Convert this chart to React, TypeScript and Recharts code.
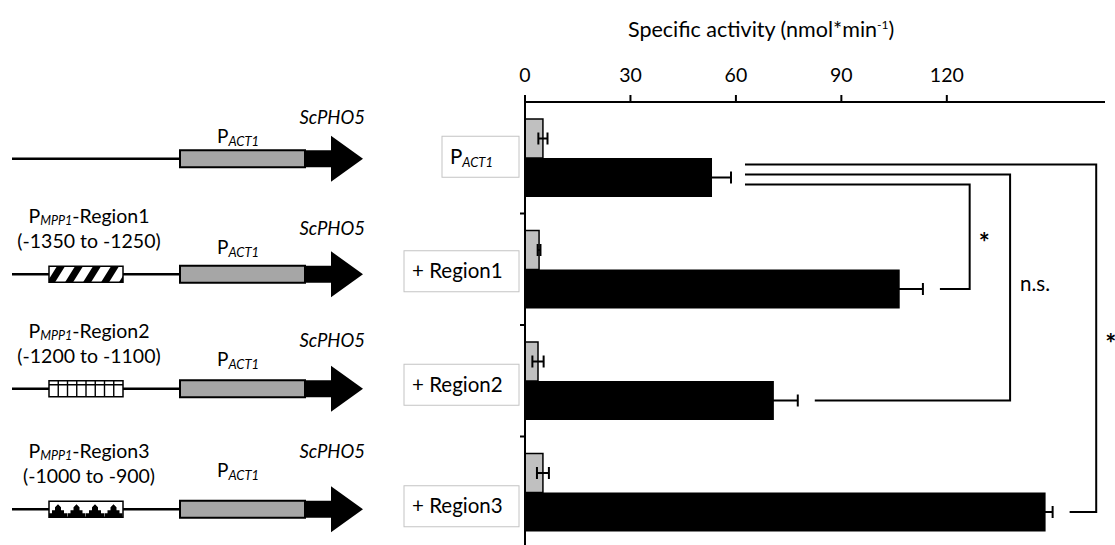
import { BarChart, Bar, XAxis, YAxis, ErrorBar } from "recharts";

const constructs = ["PACT1", "+ Region1", "+ Region2", "+ Region3"];
const regionNames = ["", "Region1", "Region2", "Region3"];
const regionRanges = ["", "(-1350 to -1250)", "(-1200 to -1100)", "(-1000 to -900)"];
const greyMeans = [5.1, 4.0, 3.7, 5.1];
const greyErrors = [1.3, 0.4, 1.6, 1.7];
const blackMeans = [53.2, 106.6, 70.8, 148.1];
const blackErrors = [5.4, 6.6, 6.8, 2.0];
const xTicks = [0, 30, 60, 90, 120];
const sigLabels = ["*", "n.s.", "*"];

const rows = constructs.map((name, i) => ({
  name,
  grey: greyMeans[i],
  greyErr: greyErrors[i],
  black: blackMeans[i],
  blackErr: blackErrors[i],
}));

const FONT = "Lato, 'Open Sans', sans-serif";
const W = 1115;
const H = 560;
const MARGIN = { top: 0, right: 10, bottom: 12, left: 0 };
const X_AXIS_H = 102;
const Y_AXIS_W = 525;
const BAND = (H - MARGIN.top - MARGIN.bottom - X_AXIS_H) / constructs.length;

// hand-placed nudges of the left-hand construct drawings (px)
const LINE_SHIFT = [1, 5, 8, 17];
const BOX_SHIFT = [-1, 2, 4, 14];
// where the significance brackets turn (axis units)
const bracketX = [126.5, 138, 162.5];

function RegionPattern({ kind, cy }: { kind: number; cy: number }) {
  const bx = 49;
  const bw = 74;
  const top = cy - 8;
  const h = 16;
  const id = `regclip${kind}`;
  let inner: any = null;
  if (kind === 1) {
    inner = [0, 1, 2, 3, 4].map((k) => {
      const x0 = bx - 2 + k * 18;
      return (
        <polygon
          key={k}
          points={`${x0},${top + h} ${x0 + 8},${top + h} ${x0 + 18},${top} ${x0 + 10},${top}`}
          fill="#000"
        />
      );
    });
  } else if (kind === 2) {
    inner = (
      <g stroke="#000" strokeWidth={1.4}>
        <line x1={bx} x2={bx + bw} y1={top + 4} y2={top + 4} />
        {[1, 2, 3, 4, 5, 6, 7].map((j) => (
          <line key={j} x1={bx + (j * bw) / 8} x2={bx + (j * bw) / 8} y1={top} y2={top + h} />
        ))}
      </g>
    );
  } else if (kind === 3) {
    inner = [0, 1, 2, 3].map((k) => {
      const cx = 58 + k * 18.5;
      const b = top + h;
      return (
        <polygon
          key={k}
          points={`${cx - 9},${b} ${cx - 9},${b - 4} ${cx - 6},${b - 4} ${cx - 6},${b - 7} ${cx - 3},${b - 7} ${cx - 3},${b - 10} ${cx},${b - 13} ${cx + 3},${b - 10} ${cx + 3},${b - 7} ${cx + 6},${b - 7} ${cx + 6},${b - 4} ${cx + 9},${b - 4} ${cx + 9},${b}`}
          fill="#000"
        />
      );
    });
  }
  return (
    <g>
      <defs>
        <clipPath id={id}>
          <rect x={bx} y={top} width={bw} height={h} />
        </clipPath>
      </defs>
      <rect x={bx} y={top} width={bw} height={h} fill="#fff" />
      <g clipPath={`url(#${id})`}>{inner}</g>
      <rect x={bx} y={top} width={bw} height={h} fill="none" stroke="#000" strokeWidth={1.5} />
    </g>
  );
}

function ConstructTick(props: any) {
  const { x, y, index } = props;
  const bc = y;
  const ly = bc + LINE_SHIFT[index];
  const by = bc + BOX_SHIFT[index];
  const boxW = index === 0 ? 77 : 115;
  const half = 8.5;
  return (
    <g fontFamily={FONT}>
      {/* band boundary tick */}
      <line x1={x + 1} x2={x + 6} y1={bc + BAND / 2} y2={bc + BAND / 2} stroke="#000" strokeWidth={2} />
      {/* label box */}
      <rect x={x - boxW} y={by - 20.5} width={boxW} height={41} fill="#fff" stroke="#c4c4c4" strokeWidth={1} />
      <text x={x - boxW + 8} y={by + 7} fontSize={20.5} fill="#000">
        {index === 0 ? (
          <>
            P
            <tspan fontSize={13} fontStyle="italic" dy={3}>
              ACT1
            </tspan>
          </>
        ) : (
          constructs[index]
        )}
      </text>

      {/* construct drawing */}
      <line x1={12} x2={180} y1={ly} y2={ly} stroke="#000" strokeWidth={2.5} />
      {index > 0 && (
        <>
          <RegionPattern kind={index} cy={ly} />
          <text x={89} y={ly - 51} fontSize={19.5} fill="#000" textAnchor="middle">
            P
            <tspan fontSize={12.5} fontStyle="italic" dy={2}>
              MPP1
            </tspan>
            <tspan dy={-2}>-{regionNames[index]}</tspan>
          </text>
          <text x={89} y={ly - 26} fontSize={19.5} fill="#000" textAnchor="middle">
            {regionRanges[index]}
          </text>
        </>
      )}
      <rect x={180} y={ly - half} width={125} height={half * 2} fill="#a6a6a6" stroke="#000" strokeWidth={2} />
      <polygon
        points={`${305},${ly - half} ${331},${ly - half} ${331},${ly - 23} ${363},${ly} ${331},${ly + 23} ${331},${ly + half} ${305},${ly + half}`}
        fill="#000"
      />
      <text x={217} y={bc - 15} fontSize={19} fill="#000">
        P
        <tspan fontSize={13} fontStyle="italic" dy={3}>
          ACT1
        </tspan>
      </text>
      <text x={365} y={bc - 34} fontSize={18.5} fontStyle="italic" fill="#000" textAnchor="end">
        ScPHO5
      </text>
    </g>
  );
}

function BlackBar(props: any) {
  const { x, y, width, height, index } = props;
  const bar = <rect x={x} y={y} width={width} height={height} fill="#000" />;
  if (index === 0 || !width) return bar;
  const k = width / blackMeans[index];
  const cy = y + height / 2;
  const cy0 = cy - index * BAND;
  const yTop = cy0 + 17 - index * 10;
  const xs0 = x + (blackMeans[0] + blackErrors[0]) * k + 14;
  const xs = x + (blackMeans[index] + blackErrors[index]) * k + 17;
  const xv = x + bracketX[index - 1] * k;
  const mid = (yTop + cy) / 2;
  const lbl = sigLabels[index - 1];
  const star = lbl === "*";
  return (
    <g>
      {bar}
      <polyline
        points={`${xs0},${yTop} ${xv},${yTop} ${xv},${cy} ${xs},${cy}`}
        fill="none"
        stroke="#000"
        strokeWidth={2}
      />
      <text
        x={xv + (star ? 9 : 10)}
        y={star ? mid + 15 : mid + 3}
        fontSize={star ? 26 : 20.5}
        fontWeight={star ? 700 : 400}
        fontFamily={FONT}
        fill="#000"
      >
        {lbl}
      </text>
    </g>
  );
}

export default function App() {
  return (
    <div
      style={{
        position: "fixed",
        left: 0,
        top: 0,
        width: W,
        height: 545,
        overflow: "hidden",
        background: "#fff",
        fontFamily: FONT,
      }}
    >
      <div
        style={{
          position: "absolute",
          left: 628,
          top: 16,
          fontSize: 21.5,
          lineHeight: "26px",
          color: "#000",
          whiteSpace: "nowrap",
          zIndex: 1,
        }}
      >
        Specific activity (nmol*min<sup style={{ fontSize: 12, lineHeight: 0 }}>-1</sup>)
      </div>
      <BarChart
        width={W}
        height={H}
        data={rows}
        layout="vertical"
        margin={MARGIN}
        barCategoryGap={17}
        barGap={0}
      >
        <XAxis
          type="number"
          orientation="top"
          domain={[0, 165]}
          ticks={xTicks}
          height={X_AXIS_H}
          tickSize={7}
          tickMargin={13}
          axisLine={{ stroke: "#000", strokeWidth: 2 }}
          tickLine={{ stroke: "#000", strokeWidth: 2 }}
          tick={{ fill: "#000", fontSize: 19.5, fontFamily: FONT }}
        />
        <YAxis
          type="category"
          dataKey="name"
          width={Y_AXIS_W}
          interval={0}
          tickSize={0}
          tickMargin={6}
          tickLine={false}
          axisLine={{ stroke: "#000", strokeWidth: 2 }}
          tick={ConstructTick}
        />
        <Bar dataKey="grey" fill="#c0c0c0" stroke="#000" strokeWidth={1.5} isAnimationActive={false}>
          <ErrorBar dataKey="greyErr" direction="x" width={6} stroke="#000" strokeWidth={2} />
        </Bar>
        <Bar dataKey="black" fill="#000" shape={BlackBar} isAnimationActive={false}>
          <ErrorBar dataKey="blackErr" direction="x" width={6} stroke="#000" strokeWidth={2} />
        </Bar>
      </BarChart>
    </div>
  );
}
